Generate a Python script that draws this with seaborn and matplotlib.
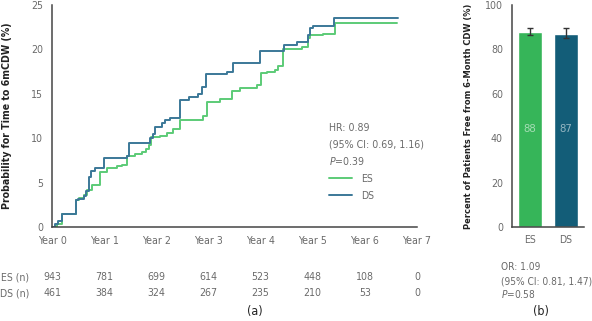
import matplotlib
matplotlib.use("Agg")
import matplotlib.pyplot as plt
from matplotlib import font_manager
import seaborn as sns
import pandas as pd

# ---- data ----
years = [0, 1, 2, 3, 4, 5, 6, 7]
year_labels = ["Year 0", "Year 1", "Year 2", "Year 3", "Year 4", "Year 5", "Year 6", "Year 7"]

es_time = [0.0, 0.10, 0.20, 0.46, 0.52, 0.62, 0.68, 0.77, 0.92, 1.05, 1.24, 1.35, 1.44,
           1.60, 1.72, 1.80, 1.86, 1.90, 2.07, 2.20, 2.33, 2.46, 2.90, 2.97, 3.22, 3.45,
           3.60, 3.93, 4.00, 4.12, 4.28, 4.34, 4.43, 4.60, 4.80, 4.90, 4.95, 5.20, 5.43, 6.62]
es_prob = [0.0, 0.3, 1.5, 3.0, 3.3, 3.6, 4.2, 4.7, 6.2, 6.6, 6.9, 7.0, 8.0,
           8.2, 8.5, 8.8, 9.2, 10.1, 10.3, 10.6, 11.0, 12.1, 12.5, 14.1, 14.4, 15.3,
           15.6, 16.0, 17.3, 17.5, 17.7, 18.1, 20.0, 20.1, 20.3, 21.3, 21.6, 21.7, 23.0, 23.0]

ds_time = [0.0, 0.06, 0.12, 0.20, 0.46, 0.50, 0.62, 0.66, 0.70, 0.75, 0.83, 1.00, 1.44,
           1.48, 1.88, 1.93, 1.98, 2.10, 2.16, 2.26, 2.45, 2.62, 2.80, 2.88, 2.95, 3.35,
           3.48, 3.98, 4.44, 4.70, 4.90, 4.95, 5.00, 5.41, 6.64]
ds_prob = [0.0, 0.3, 0.7, 1.5, 3.0, 3.2, 3.5, 4.0, 5.6, 6.3, 6.6, 7.8, 8.0,
           9.5, 10.0, 10.5, 11.3, 11.7, 12.0, 12.3, 14.3, 14.6, 15.0, 15.8, 17.2, 17.5,
           18.5, 19.8, 20.5, 20.8, 21.6, 22.4, 22.6, 23.5, 23.5]

es_at_risk = [943, 781, 699, 614, 523, 448, 108, 0]
ds_at_risk = [461, 384, 324, 267, 235, 210, 53, 0]

groups = ["ES", "DS"]
free_pct = [88, 87]
ci_low = [86.3, 85.0]
ci_high = [89.8, 89.5]

# ---- style ----
ES_LINE, DS_LINE = "#5ccb77", "#3b7898"
ES_BAR, DS_BAR = "#36b559", "#135d78"
AXIS_C = "#454545"
TICK_C = "#6a6a6a"

sns.set_theme(style="white")
names = {f.name for f in font_manager.fontManager.ttflist}
if "Liberation Sans Narrow" in names:
    family = "Liberation Sans Narrow"
    stretch = "normal"
else:
    family = "DejaVu Sans"
    stretch = "condensed"
plt.rcParams["font.family"] = [family, "DejaVu Sans"]
plt.rcParams["font.stretch"] = stretch
plt.rcParams["mathtext.fontset"] = "custom"
plt.rcParams["mathtext.rm"] = family
plt.rcParams["mathtext.it"] = family + ":italic"

W, H = 592, 321
fig = plt.figure(figsize=(W / 100, H / 100), dpi=100)


def fx(px):
    return px / W


def fy(py):
    return 1 - py / H


FS = 7.6

# ---- (a) cumulative incidence ----
ax = fig.add_axes([fx(52), fy(227), fx(417) - fx(52), fy(5) - fy(227)])
curves = pd.concat([
    pd.DataFrame({"year": es_time, "prob": es_prob, "arm": "ES"}),
    pd.DataFrame({"year": ds_time, "prob": ds_prob, "arm": "DS"}),
])
sns.lineplot(data=curves, x="year", y="prob", hue="arm", palette={"ES": ES_LINE, "DS": DS_LINE},
             estimator=None, drawstyle="steps-post", linewidth=1.4, ax=ax, legend=True)
ax.set_xlim(0, 7)
ax.set_ylim(0, 25)
ax.set_xticks(years)
ax.set_xticklabels(year_labels)
ax.set_yticks([0, 5, 10, 15, 20, 25])
ax.set_xlabel("")
ax.set_ylabel("Probability for Time to 6mCDW (%)", fontsize=FS, fontweight="bold", color="#222222")
ax.yaxis.set_label_coords((12 - 52) / 365, 0.5)

leg = ax.legend(loc="upper left", bbox_to_anchor=(fx(329), fy(174)), bbox_transform=fig.transFigure,
                frameon=False, fontsize=FS, handlelength=2.2, handletextpad=0.8,
                labelspacing=0.62, borderpad=0, borderaxespad=0)
for t in leg.get_texts():
    t.set_color(TICK_C)

fig.text(fx(329), fy(128), "HR: 0.89", fontsize=FS, color=TICK_C, va="center")
fig.text(fx(329), fy(144.5), "(95% CI: 0.69, 1.16)", fontsize=FS, color=TICK_C, va="center")
fig.text(fx(329), fy(161), "$P$=0.39", fontsize=FS, color=TICK_C, va="center")

# number at risk
fig.text(fx(29), fy(277), "ES (n)", fontsize=FS, color=TICK_C, ha="right", va="center")
fig.text(fx(29), fy(293), "DS (n)", fontsize=FS, color=TICK_C, ha="right", va="center")
for yr, n_es, n_ds in zip(years, es_at_risk, ds_at_risk):
    xf = fig.transFigure.inverted().transform(ax.transData.transform((yr, 0)))[0]
    fig.text(xf, fy(277), str(n_es), fontsize=FS, color=TICK_C, ha="center", va="center")
    fig.text(xf, fy(293), str(n_ds), fontsize=FS, color=TICK_C, ha="center", va="center")
fig.text(fx(255), fy(312), "(a)", fontsize=9, color="#222222", ha="center", va="center")

# ---- (b) bar chart ----
bx = fig.add_axes([fx(512), fy(227), fx(584) - fx(512), fy(5) - fy(227)])
bars = pd.DataFrame({"group": groups, "pct": free_pct})
sns.barplot(data=bars, x="group", y="pct", hue="group", palette={"ES": ES_BAR, "DS": DS_BAR},
            width=0.67, errorbar=None, legend=False, ax=bx, saturation=1)
err_lo = [v - lo for v, lo in zip(free_pct, ci_low)]
err_hi = [hi - v for v, hi in zip(free_pct, ci_high)]
bx.errorbar(range(len(groups)), free_pct, yerr=[err_lo, err_hi], fmt="none",
            ecolor="#333333", elinewidth=1.0, capsize=2.5, capthick=1.0)
for i, v in enumerate(free_pct):
    bx.text(i, 44, str(v), ha="center", va="center", fontsize=FS + 0.5, color="white", alpha=0.55)
bx.set_xlim(-0.5, 1.5)
bx.set_ylim(0, 100)
bx.set_yticks([0, 20, 40, 60, 80, 100])
bx.set_xticks([0, 1])
bx.set_xticklabels(groups)
bx.set_xticks([-0.5, 0.5, 1.5], minor=True)
bx.set_xlabel("")
bx.set_ylabel("Percent of Patients Free from 6-Month CDW (%)", fontsize=6.7,
              fontweight="bold", color="#222222")
bx.yaxis.set_label_coords((473 - 512) / 72, 0.5)

fig.text(fx(501), fy(267), "OR: 1.09", fontsize=FS - 0.3, color=TICK_C, va="center")
fig.text(fx(501), fy(281), "(95% CI: 0.81, 1.47)", fontsize=FS - 0.3, color=TICK_C, va="center")
fig.text(fx(501), fy(294.5), "$P$=0.58", fontsize=FS - 0.3, color=TICK_C, va="center")
fig.text(fx(541), fy(312), "(b)", fontsize=9, color="#222222", ha="center", va="center")

# ---- shared axis styling ----
for a in (ax, bx):
    sns.despine(ax=a)
    for s in ("left", "bottom"):
        a.spines[s].set_color(AXIS_C)
        a.spines[s].set_linewidth(1.1)
    a.tick_params(axis="both", which="major", direction="out", length=4, width=1.0,
                  color=AXIS_C, labelcolor=TICK_C, labelsize=FS, pad=2.5)
    a.grid(False)
bx.tick_params(axis="x", which="major", length=0, pad=6)
bx.tick_params(axis="x", which="minor", direction="out", length=4, width=1.0, color=AXIS_C)

fig.savefig("out.png", dpi=100)
